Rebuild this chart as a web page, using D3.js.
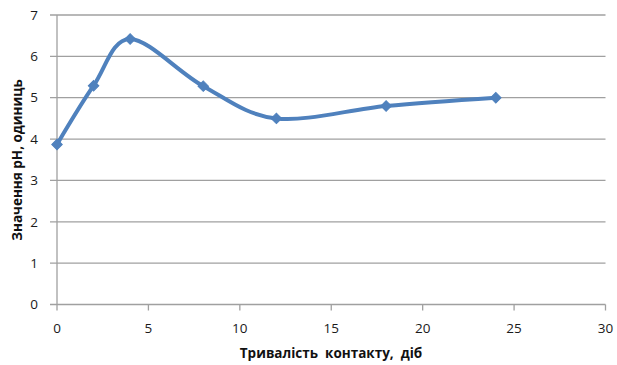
<!DOCTYPE html>
<html><head><meta charset="utf-8">
<script src="https://cdn.jsdelivr.net/npm/d3@7"></script>
<style>body{margin:0;background:#fff}</style>
</head><body>
<svg id="c" width="617" height="365"></svg>
<script>
const days = [0, 2, 4, 8, 12, 18, 24];
const ph = [3.87, 5.29, 6.42, 5.28, 4.5, 4.8, 5.0];
const xTicks = [0, 5, 10, 15, 20, 25, 30];
const yTicks = [0, 1, 2, 3, 4, 5, 6, 7];
const xTitle = "Тривалість  контакту,  діб";
const yTitle = "Значення рН, одиниць";

const svg = d3.select("#c");
const L = 57, R = 605.5, T = 15, B = 304.5;
const x = d3.scaleLinear().domain([0, 30]).range([L, R]);
const y = d3.scaleLinear().domain([0, 7]).range([B, T]);
const font = "'Open Sans', 'Liberation Sans', sans-serif";

// gridlines
svg.append("g").selectAll("line").data(yTicks).join("line")
  .attr("x1", L - 7).attr("x2", R).attr("y1", d => y(d)).attr("y2", d => y(d))
  .attr("stroke", "#a0a0a0").attr("stroke-width", 1.3);

// y axis
svg.append("line").attr("x1", L).attr("x2", L).attr("y1", T).attr("y2", B)
  .attr("stroke", "#a0a0a0").attr("stroke-width", 1.3);
// x axis ticks
svg.append("g").selectAll("line").data(xTicks).join("line")
  .attr("x1", d => x(d)).attr("x2", d => x(d)).attr("y1", B).attr("y2", B + 6)
  .attr("stroke", "#a0a0a0").attr("stroke-width", 1.3);

// tick labels
svg.append("g").selectAll("text").data(yTicks).join("text")
  .attr("x", 38).attr("y", d => y(d)).attr("dy", "0.35em").attr("text-anchor", "end")
  .attr("font-family", font).attr("font-size", 13.5).attr("fill", "#1a1a1a").text(d => d);
svg.append("g").selectAll("text").data(xTicks).join("text")
  .attr("x", d => x(d)).attr("y", 328).attr("dy", "0.35em").attr("text-anchor", "middle")
  .attr("font-family", font).attr("font-size", 13.5).attr("fill", "#1a1a1a").text(d => d);

// titles
svg.append("text").attr("x", 331).attr("y", 358).attr("text-anchor", "middle")
  .attr("font-family", font).attr("font-size", 13.5).attr("font-weight", "bold")
  .attr("fill", "#111").attr("xml:space", "preserve").text(xTitle);
svg.append("text").attr("transform", "translate(22,160) rotate(-90)").attr("text-anchor", "middle")
  .attr("font-family", font).attr("font-size", 13.5).attr("font-weight", "bold")
  .attr("fill", "#111").text(yTitle);

// line
const pts = days.map((d, i) => [d, ph[i]]);
const line = d3.line().x(d => x(d[0])).y(d => y(d[1])).curve(d3.curveCardinal.tension(0));
svg.append("path").attr("d", line(pts)).attr("fill", "none")
  .attr("stroke", "#4f81bd").attr("stroke-width", 4).attr("stroke-linejoin", "round");

// markers
svg.append("g").selectAll("path").data(pts).join("path")
  .attr("d", d3.symbol().type(d3.symbolSquare).size(55))
  .attr("transform", d => `translate(${x(d[0])},${y(d[1])}) rotate(45)`)
  .attr("fill", "#4f81bd").attr("stroke", "#4f81bd").attr("stroke-width", 1);
</script>
</body></html>
